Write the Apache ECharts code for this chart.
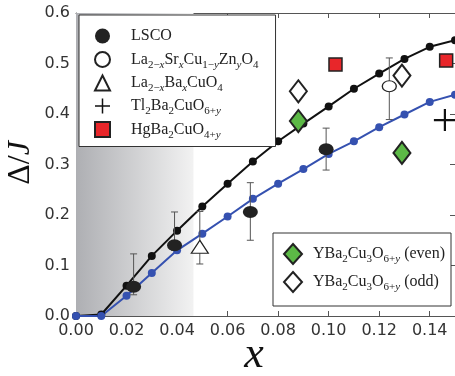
<!DOCTYPE html>
<html><head><meta charset="utf-8">
<script src="https://cdn.jsdelivr.net/npm/echarts@6/dist/echarts.min.js"></script>
<style>html,body{margin:0;padding:0;background:#fff}#c{width:455px;height:376px}</style>
</head><body><div id="c"></div>
<script>
// ---- data ----
const xTickLabels = ['0.00','0.02','0.04','0.06','0.08','0.10','0.12','0.14'];
const yTickLabels = ['0.0','0.1','0.2','0.3','0.4','0.5','0.6'];
const theoryX = [0,0.01,0.02,0.03,0.04,0.05,0.06,0.07,0.08,0.09,0.10,0.11,0.12,0.13,0.14,0.15];
const blackY  = [0,0.003,0.060,0.119,0.169,0.217,0.262,0.306,0.346,0.381,0.415,0.450,0.480,0.509,0.533,0.546];
const blueY   = [0,0,0.040,0.085,0.130,0.163,0.197,0.232,0.262,0.291,0.321,0.346,0.374,0.399,0.424,0.438];
const lscoX  = [0.0228,0.039,0.069,0.099];
const lscoY  = [0.058,0.140,0.206,0.330];
const lscoLo = [0.042,0.130,0.150,0.289];
const lscoHi = [0.123,0.206,0.264,0.372];
const znX = [0.124], znY = [0.455], znLo = [0.389], znHi = [0.511];
const lbcoX = [0.049], lbcoY = [0.137], lbcoLo = [0.103], lbcoHi = [0.207];
const tlX = [0.146], tlY = [0.388];
const hgX = [0.1027,0.1465], hgY = [0.498,0.506];
const ybEvenX = [0.088,0.129], ybEvenY = [0.386,0.323];
const ybOddX = [0.088,0.129], ybOddY = [0.445,0.476];
const shadeMaxX = 0.0465;

const zip = (a,b) => a.map((v,i)=>[v,b[i]]);
const zip3 = (a,b,c) => a.map((v,i)=>[v,b[i],c[i]]);

const crossPath = 'path://M9,0 L11,0 L11,9 L20,9 L20,11 L11,11 L11,20 L9,20 L9,11 L0,11 L0,9 L9,9 Z';

const names = {
  lsco: 'LSCO',
  zn: 'La2-xSrxCu1-yZnyO4',
  lbco: 'La2-xBaxCuO4',
  tl: 'Tl2Ba2CuO6+y',
  hg: 'HgBa2CuO4+y',
  ye: 'YBa2Cu3O6+y (even)',
  yo: 'YBa2Cu3O6+y (odd)'
};
const richNames = {};
richNames[names.lsco] = '{n|LSCO}{s| }';
richNames[names.zn] = '{n|La}{s|2−}{si|x}{n|Sr}{si|x}{n|Cu}{s|1−}{si|y}{n|Zn}{si|y}{n|O}{s|4}';
richNames[names.lbco] = '{n|La}{s|2−}{si|x}{n|Ba}{si|x}{n|CuO}{s|4}';
richNames[names.tl] = '{n|Tl}{s|2}{n|Ba}{s|2}{n|CuO}{s|6+}{si|y}';
richNames[names.hg] = '{n|HgBa}{s|2}{n|CuO}{s|4+}{si|y}';
richNames[names.ye] = '{n|YBa}{s|2}{n|Cu}{s|3}{n|O}{s|6+}{si|y}{n| (even)}';
richNames[names.yo] = '{n|YBa}{s|2}{n|Cu}{s|3}{n|O}{s|6+}{si|y}{n| (odd)}';

const serif = 'Liberation Serif';
const rich = {
  n: {fontFamily: serif, fontSize: 16, color: '#222', lineHeight: 22},
  s: {fontFamily: serif, fontSize: 11, color: '#222', verticalAlign: 'bottom', lineHeight: 14},
  si: {fontFamily: serif, fontSize: 11, fontStyle: 'italic', color: '#222', verticalAlign: 'bottom', lineHeight: 14}
};

function errRender(params, api) {
  const x = api.value(0), lo = api.value(1), hi = api.value(2);
  const a = api.coord([x, lo]), b = api.coord([x, hi]);
  const c = 3.5;
  const st = {stroke: '#555', lineWidth: 1};
  return {type: 'group', children: [
    {type: 'line', shape: {x1: a[0], y1: a[1], x2: b[0], y2: b[1]}, style: st},
    {type: 'line', shape: {x1: a[0]-c, y1: a[1], x2: a[0]+c, y2: a[1]}, style: st},
    {type: 'line', shape: {x1: b[0]-c, y1: b[1], x2: b[0]+c, y2: b[1]}, style: st}
  ]};
}

const axisCol = '#555';
const tickFont = {fontFamily: 'DejaVu Sans', fontSize: 16, color: '#333'};

const option = {
  animation: false,
  backgroundColor: '#fff',
  grid: {left: 76, top: 13, width: 381, height: 303, containLabel: false},
  xAxis: [
    {type: 'value', min: 0, max: 0.15, interval: 0.02, position: 'bottom',
     axisLine: {show: true, onZero: false, lineStyle: {color: axisCol, width: 1}},
     axisTick: {show: true, inside: true, length: 5, lineStyle: {color: axisCol}},
     splitLine: {show: false},
     axisLabel: Object.assign({margin: 7, showMaxLabel: false,
       formatter: v => xTickLabels[Math.round(v/0.02)] || ''}, tickFont)},
    {type: 'value', min: 0, max: 0.15, interval: 0.02, position: 'top',
     axisLine: {show: true, onZero: false, lineStyle: {color: axisCol, width: 1}},
     axisTick: {show: true, inside: true, length: 5, lineStyle: {color: axisCol}},
     splitLine: {show: false}, axisLabel: {show: false}}
  ],
  yAxis: [
    {type: 'value', min: 0, max: 0.6, interval: 0.1, position: 'left',
     axisLine: {show: true, onZero: false, lineStyle: {color: axisCol, width: 1}},
     axisTick: {show: true, inside: true, length: 5, lineStyle: {color: axisCol}},
     splitLine: {show: false},
     axisLabel: Object.assign({margin: 6,
       formatter: v => yTickLabels[Math.round(v/0.1)] || ''}, tickFont)},
    {type: 'value', min: 0, max: 0.6, interval: 0.1, position: 'right',
     axisLine: {show: true, onZero: false, lineStyle: {color: axisCol, width: 1}},
     axisTick: {show: true, inside: true, length: 5, lineStyle: {color: axisCol}},
     splitLine: {show: false}, axisLabel: {show: false}}
  ],
  legend: [
    {orient: 'vertical', left: 79, top: 15, padding: [13, 17, 6, 15], itemGap: 4,
     itemWidth: 15, itemHeight: 15, symbolKeepAspect: true,
     backgroundColor: '#fff', borderColor: '#333', borderWidth: 1,
     data: [names.lsco, names.zn, names.lbco, names.tl, names.hg],
     formatter: n => richNames[n],
     textStyle: {rich: rich, padding: [0, 0, 0, 16]}},
    {orient: 'vertical', left: 273, top: 233, padding: [10, 6, 13, 10], itemGap: 6,
     itemWidth: 18, itemHeight: 20, symbolKeepAspect: false,
     backgroundColor: '#fff', borderColor: '#333', borderWidth: 1,
     data: [names.ye, names.yo],
     formatter: n => richNames[n],
     textStyle: {rich: rich, padding: [0, 0, 0, 6]}}
  ],
  graphic: [
    {type: 'text', x: 21, y: 163, rotation: Math.PI/2, z: 100,
     style: {text: '{a|Δ/}{b|J}', align: 'center', verticalAlign: 'middle',
       rich: {a: {fontFamily: serif, fontSize: 32, fill: '#111'},
              b: {fontFamily: serif, fontSize: 32, fontStyle: 'italic', fill: '#111'}}}},
    {type: 'text', x: 254, y: 355, z: 100,
     style: {text: 'x', fontFamily: serif, fontStyle: 'italic', fontSize: 44, fill: '#111',
       align: 'center', verticalAlign: 'middle'}}
  ],
  series: [
    {type: 'scatter', name: 'shade', data: [], z: 1, silent: true,
     markArea: {silent: true, data: [[{coord: [0, 0]}, {coord: [shadeMaxX, 0.6]}]],
       itemStyle: {opacity: 1, color: {type: 'linear', x: 0, y: 0, x2: 1, y2: 0,
         colorStops: [{offset: 0, color: '#aeafb3'}, {offset: 1, color: '#f2f2f2'}]}}}},
    {type: 'line', name: 'theory black', data: zip(theoryX, blackY), z: 3,
     symbol: 'circle', symbolSize: 8, showSymbol: true,
     lineStyle: {color: '#111', width: 2}, itemStyle: {color: '#111', opacity: 1}},
    {type: 'line', name: 'theory blue', data: zip(theoryX, blueY), z: 3,
     symbol: 'circle', symbolSize: 8, showSymbol: true,
     lineStyle: {color: '#3551b0', width: 2}, itemStyle: {color: '#3551b0', opacity: 1}},
    {type: 'custom', name: 'err lsco', data: zip3(lscoX, lscoLo, lscoHi), renderItem: errRender,
     encode: {x: 0, y: [1, 2]}, z: 4, silent: true},
    {type: 'custom', name: 'err zn', data: zip3(znX, znLo, znHi), renderItem: errRender,
     encode: {x: 0, y: [1, 2]}, z: 4, silent: true},
    {type: 'custom', name: 'err lbco', data: zip3(lbcoX, lbcoLo, lbcoHi), renderItem: errRender,
     encode: {x: 0, y: [1, 2]}, z: 4, silent: true},
    {type: 'scatter', name: names.lsco, data: zip(lscoX, lscoY), z: 5,
     symbol: 'circle', symbolSize: [15, 12], itemStyle: {color: '#222', opacity: 1}},
    {type: 'scatter', name: names.zn, data: zip(znX, znY), z: 5,
     symbol: 'circle', symbolSize: [14, 11], itemStyle: {color: '#fff', borderColor: '#222', borderWidth: 1.2, opacity: 1}},
    {type: 'scatter', name: names.lbco, data: zip(lbcoX, lbcoY), z: 5,
     symbol: 'triangle', symbolSize: [17, 13], itemStyle: {color: '#fff', borderColor: '#222', borderWidth: 1.2, opacity: 1}},
    {type: 'scatter', name: names.tl, data: zip(tlX, tlY), z: 5,
     symbol: crossPath, symbolSize: 22, itemStyle: {color: '#111', opacity: 1}},
    {type: 'scatter', name: names.hg, data: zip(hgX, hgY), z: 5,
     symbol: 'rect', symbolSize: 13, itemStyle: {color: '#e8262a', borderColor: '#222', borderWidth: 1.5, opacity: 1}},
    {type: 'scatter', name: names.ye, data: zip(ybEvenX, ybEvenY), z: 5,
     symbol: 'diamond', symbolSize: [17, 22], itemStyle: {color: '#5cb946', borderColor: '#222', borderWidth: 2, opacity: 1}},
    {type: 'scatter', name: names.yo, data: zip(ybOddX, ybOddY), z: 5,
     symbol: 'diamond', symbolSize: [17, 22], itemStyle: {color: '#fff', borderColor: '#222', borderWidth: 2, opacity: 1}}
  ]
};
const chart = echarts.init(document.getElementById('c'), null, {renderer: 'canvas'});
chart.setOption(option);
</script></body></html>
